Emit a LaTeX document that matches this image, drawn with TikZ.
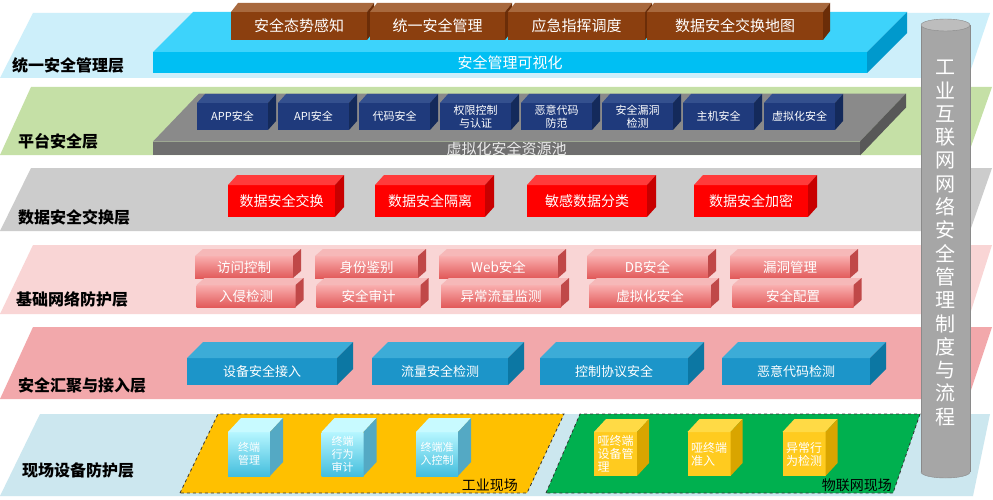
\documentclass[tikz,border=0pt]{standalone}
\usepackage{fontspec}
\setmainfont{Noto Sans CJK SC}
\usetikzlibrary{calc}

\definecolor{bandA}{HTML}{CDEFFA}
\definecolor{bandB}{HTML}{C5E0A6}
\definecolor{bandC}{HTML}{CCCCCC}
\definecolor{bandD}{HTML}{F9D5D5}
\definecolor{bandE}{HTML}{F2A8AB}
\definecolor{bandF}{HTML}{CCE7EF}
\definecolor{fieldInd}{HTML}{FFC000}
\definecolor{fieldIot}{HTML}{00B04F}
\definecolor{cylGray}{HTML}{A6A6A6}
\definecolor{cylTop}{HTML}{BDBDBD}
\definecolor{cylEdge}{HTML}{8A8A8A}
\definecolor{visF}{HTML}{00BFF3}
\definecolor{visT}{HTML}{3DD3FB}
\definecolor{visS}{HTML}{0099CC}
\definecolor{poolF}{HTML}{6F6F6F}
\definecolor{poolT}{HTML}{8A8A8A}
\definecolor{poolS}{HTML}{585858}
\definecolor{mgmtF}{HTML}{8B3F0F}
\definecolor{mgmtT}{HTML}{A8693E}
\definecolor{mgmtS}{HTML}{6B2D08}
\definecolor{platF}{HTML}{1F3A7C}
\definecolor{platT}{HTML}{34508E}
\definecolor{platS}{HTML}{142A5B}
\definecolor{xchgF}{HTML}{FF0000}
\definecolor{xchgT}{HTML}{FF3B3B}
\definecolor{xchgS}{HTML}{C80000}
\definecolor{netA}{HTML}{F9AFAF}
\definecolor{netB}{HTML}{E25A5A}
\definecolor{netT}{HTML}{F6B8B8}
\definecolor{netS}{HTML}{C04848}
\definecolor{accF}{HTML}{1C95C9}
\definecolor{accT}{HTML}{3CACD7}
\definecolor{accS}{HTML}{0C77A3}
\definecolor{termA}{HTML}{B6F6FF}
\definecolor{termB}{HTML}{44BEDD}
\definecolor{termT}{HTML}{C8FAFF}
\definecolor{termS}{HTML}{54A9C4}
\definecolor{iotF}{HTML}{FFCB1F}
\definecolor{iotT}{HTML}{FFDA45}
\definecolor{iotS}{HTML}{D9A500}

\tikzset{
  layer label/.style={anchor=west, inner sep=0pt, font=\bfseries\fontsize{16}{18}\selectfont},
  field/.style={draw=black!80, dashed, line width=0.8pt},
  field label/.style={anchor=east, inner sep=0pt, font=\fontsize{14}{16}\selectfont},
  face/.style={inner sep=0pt, outer sep=0pt, text=white, align=center},
  vis face/.style={face, fill=visF, font=\fontsize{15}{17}\selectfont},
  vis top/.style={fill=visT},
  vis side/.style={fill=visS},
  pool face/.style={face, fill=poolF, text=black!8, font=\fontsize{15}{17}\selectfont},
  pool top/.style={fill=poolT},
  pool side/.style={fill=poolS},
  mgmt face/.style={face, fill=mgmtF, font=\fontsize{15}{17}\selectfont},
  mgmt top/.style={fill=mgmtT},
  mgmt side/.style={fill=mgmtS},
  plat face/.style={face, fill=platF, font=\fontsize{11}{13}\selectfont},
  plat top/.style={fill=platT},
  plat side/.style={fill=platS},
  xchg face/.style={face, fill=xchgF, font=\fontsize{14}{16}\selectfont},
  xchg top/.style={fill=xchgT},
  xchg side/.style={fill=xchgS},
  net face/.style={face, top color=netA, bottom color=netB, font=\fontsize{13.5}{15}\selectfont},
  net top/.style={fill=netT},
  net side/.style={fill=netS},
  acc face/.style={face, fill=accF, font=\fontsize{13}{15}\selectfont},
  acc top/.style={fill=accT},
  acc side/.style={fill=accS},
  term face/.style={face, top color=termA, bottom color=termB, font=\fontsize{11}{13}\selectfont},
  term top/.style={fill=termT},
  term side/.style={fill=termS},
  iot face/.style={face, fill=iotF, align=left, text width=36pt, font=\fontsize{12}{13}\selectfont},
  iot top/.style={fill=iotT},
  iot side/.style={fill=iotS},
  cyl text/.style={inner sep=0pt, text=white, align=center, font=\fontsize{20}{23.3}\selectfont}
}

\newcommand{\blk}[7]{%
  \node[#2 face, minimum width=#4, minimum height=#5] (#1) at (#3) {#7};
  \fill[#2 top] (#1.north west) -- ++(#6) -- ($(#1.north east)+(#6)$) -- (#1.north east) -- cycle;
  \fill[#2 side] (#1.north east) -- ++(#6) -- ($(#1.south east)+(#6)$) -- (#1.south east) -- cycle;
}

\begin{document}
\begin{tikzpicture}[x=1pt,y=-1pt]
\fill[white] (0,0) rectangle (993,500);
\useasboundingbox (0,0) rectangle (993,500);

\fill[bandA] (0,78) -- (33,13) -- (990,13) -- (968,78) -- cycle;
\fill[bandB] (0,155) -- (31,87) -- (992,87) -- (968,155) -- cycle;
\fill[bandC] (0,231) -- (31,168) -- (992,168) -- (970,231) -- cycle;
\fill[bandD] (0,314) -- (33,245) -- (992,245) -- (970,314) -- cycle;
\fill[bandE] (0,399) -- (33,327) -- (992,327) -- (968,399) -- cycle;
\fill[bandF] (0,496) -- (40,414) -- (990,414) -- (973,496) -- cycle;

\node[layer label] (lblMgmt) at (12,65) {统一安全管理层};
\node[layer label] (lblPlat) at (18,141) {平台安全层};
\node[layer label] (lblXchg) at (18,217) {数据安全交换层};
\node[layer label] (lblNet) at (16,299.5) {基础网络防护层};
\node[layer label] (lblAcc) at (18,385) {安全汇聚与接入层};
\node[layer label] (lblField) at (22,470) {现场设备防护层};

\blk{visual}{vis}{510,62.5}{714}{21}{40,-40}{安全管理可视化}
\blk{situ}{mgmt}{299,26}{136}{28}{7,-9}{安全态势感知}
\blk{unify}{mgmt}{437.5,26}{135}{28}{7,-9}{统一安全管理}
\blk{emerg}{mgmt}{576.5,26}{137}{28}{7,-9}{应急指挥调度}
\blk{dmap}{mgmt}{735,26}{176}{28}{7,-9}{数据安全交换地图}

\blk{pool}{pool}{506.5,148.5}{707}{13}{46,-48}{虚拟化安全资源池}
\blk{app}{plat}{232.5,116.5}{71}{27}{8,-9}{APP安全}
\blk{api}{plat}{313.5,116.5}{71}{27}{8,-9}{API安全}
\blk{code}{plat}{394.5,116.5}{71}{27}{8,-9}{代码安全}
\blk{auth}{plat}{475.5,116.5}{71}{27}{8,-9}{权限控制\\与认证}
\blk{malw}{plat}{556.5,116.5}{71}{27}{8,-9}{恶意代码\\防范}
\blk{vuln}{plat}{637.5,116.5}{71}{27}{8,-9}{安全漏洞\\检测}
\blk{host}{plat}{718.5,116.5}{71}{27}{8,-9}{主机安全}
\blk{virt}{plat}{799.5,116.5}{71}{27}{8,-9}{虚拟化安全}

\blk{dx}{xchg}{281.5,201}{107}{32}{9,-10}{数据安全交换}
\blk{diso}{xchg}{430,201}{110}{32}{9,-10}{数据安全隔离}
\blk{dcls}{xchg}{587,201}{120}{32}{9,-10}{敏感数据分类}
\blk{denc}{xchg}{751,201}{114}{32}{9,-10}{数据安全加密}

\blk{acl}{net}{244,267}{98}{22}{8,-7}{访问控制}
\blk{idt}{net}{366.5,267}{103}{22}{8,-7}{身份鉴别}
\blk{web}{net}{498.5,267}{119}{22}{8,-7}{Web安全}
\blk{db}{net}{647.5,267}{121}{22}{8,-7}{DB安全}
\blk{hole}{net}{790,267}{120}{22}{8,-7}{漏洞管理}
\blk{ids}{net}{246,296}{99}{22}{8,-7}{入侵检测}
\blk{audit}{net}{368.5,296}{104}{22}{8,-7}{安全审计}
\blk{flow}{net}{501,296}{120}{22}{8,-7}{异常流量监测}
\blk{vsec}{net}{650,296}{122}{22}{8,-7}{虚拟化安全}
\blk{conf}{net}{793,296}{121}{22}{8,-7}{安全配置}

\blk{devin}{acc}{262,371.5}{150}{27}{16,-16}{设备安全接入}
\blk{trdet}{acc}{440,371.5}{136}{27}{16,-16}{流量安全检测}
\blk{proto}{acc}{614,371.5}{148}{27}{16,-16}{控制协议安全}
\blk{mcdet}{acc}{796,371.5}{148}{27}{16,-16}{恶意代码检测}

\draw[field, fill=fieldInd] (180,493) -- (218,414) -- (564,414) -- (527,493) -- cycle;
\draw[field, fill=fieldIot] (546,493) -- (580,414) -- (920,414) -- (893,493) -- cycle;
\node[field label] (indSite) at (518,485) {工业现场};
\node[field label] (iotSite) at (892,485) {物联网现场};

\blk{tmgr}{term}{249,454}{42}{44}{13,-14}{终端\\管理}
\blk{tbeh}{term}{342.5,454}{42}{44}{13,-14}{终端\\行为\\审计}
\blk{tacc}{term}{437,454}{42}{44}{13,-14}{终端准\\入控制}
\blk{dmgr}{iot}{615.5,454}{43}{44}{12,-13}{哑终端\\设备管\\理}
\blk{dacc}{iot}{709,454}{43}{44}{12,-13}{哑终端\\准入}
\blk{adet}{iot}{804,454}{43}{44}{12,-13}{异常行\\为检测}

\fill[cylGray, draw=cylEdge] (945.5,472) ellipse [x radius=24.5, y radius=6];
\fill[cylGray] (921,25) rectangle (970,472);
\draw[cylEdge] (921,25) -- (921,472) (970,25) -- (970,472);
\fill[cylTop, draw=cylEdge] (945.5,25) ellipse [x radius=24.5, y radius=6];
\node[cyl text] (policy) at (945.5,243) {工\\业\\互\\联\\网\\网\\络\\安\\全\\管\\理\\制\\度\\与\\流\\程};
\end{tikzpicture}
\end{document}
